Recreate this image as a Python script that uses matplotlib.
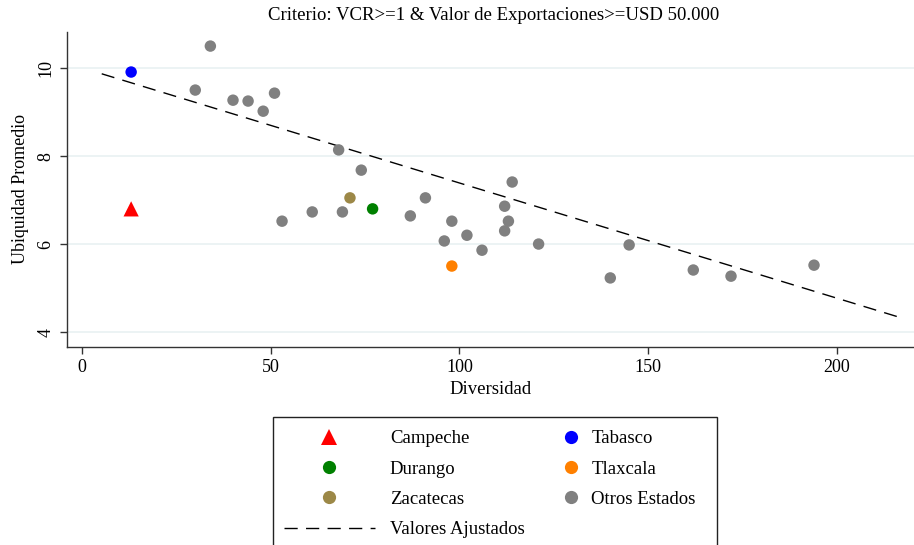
import matplotlib
matplotlib.use("Agg")
import matplotlib.pyplot as plt
from matplotlib.lines import Line2D
from matplotlib.patches import Rectangle

plt.rcParams['font.family'] = ['Liberation Serif', 'DejaVu Serif']

# ---- data ----
highlight_names = ["Campeche", "Tabasco", "Durango", "Tlaxcala", "Zacatecas"]
highlight_x = [13, 13, 77, 98, 71]
highlight_y = [6.80, 9.91, 6.80, 5.50, 7.05]

otros_x = [34, 30, 40, 44, 48, 51, 68, 74, 53, 61, 69, 87, 91, 96, 98, 102,
           106, 112, 114, 113, 112, 121, 140, 145, 162, 172, 194]
otros_y = [10.50, 9.50, 9.27, 9.25, 9.02, 9.43, 8.14, 7.68, 6.52, 6.73, 6.73,
           6.64, 7.05, 6.07, 6.52, 6.20, 5.86, 6.86, 7.41, 6.52, 6.30, 6.00,
           5.23, 5.98, 5.41, 5.27, 5.52]

fit_x = [5.2, 218.0]
fit_y = [9.87, 4.30]

x_ticks = [0, 50, 100, 150, 200]
y_ticks = [4, 6, 8, 10]

# ---- figure ----
W, H = 914, 545
fig = plt.figure(figsize=(W / 100, H / 100), dpi=100)
ax = fig.add_axes([67 / W, 1 - 347 / H, (W - 67) / W, (347 - 32) / H])

grid_c = "#EAF2F3"
for yv in y_ticks:
    ax.axhline(yv, color=grid_c, lw=1.3, zorder=0)

dash = (9.5, 6)
ax.plot(fit_x, fit_y, color="black", lw=1.0, dashes=dash, zorder=2)

dot_s = 68
ax.scatter(otros_x, otros_y, s=dot_s, color="#808080", edgecolors="none", zorder=3)

styles = {
    "Campeche": dict(marker="^", color="#FF0000", s=120),
    "Tabasco": dict(marker="o", color="#0000FF", s=dot_s),
    "Durango": dict(marker="o", color="#008000", s=dot_s),
    "Tlaxcala": dict(marker="o", color="#FF8000", s=dot_s),
    "Zacatecas": dict(marker="o", color="#9C8847", s=dot_s),
}
for n, xv, yv in zip(highlight_names, highlight_x, highlight_y):
    st = styles[n]
    ax.scatter([xv], [yv], marker=st["marker"], s=st["s"], color=st["color"],
               edgecolors="none", zorder=4)

ax.set_xlim(-4, 220.5)
ax.set_ylim(3.66, 10.82)
ax.set_xticks(x_ticks)
ax.set_yticks(y_ticks)
ax.set_xticklabels([str(v) for v in x_ticks], fontsize=13)
ax.set_yticklabels([str(v) for v in y_ticks], fontsize=13, rotation=90, va="center")
ax.tick_params(direction="out", length=5, width=1, color="#333333", pad=4)
for s in ["top", "right"]:
    ax.spines[s].set_visible(False)
for s in ["left", "bottom"]:
    ax.spines[s].set_color("#333333")
    ax.spines[s].set_linewidth(1.0)

ax.set_xlabel("Diversidad", fontsize=13.5, labelpad=3)
ax.set_ylabel("Ubiquidad Promedio", fontsize=13, labelpad=6)
fig.text(494 / W, 1 - 16 / H, "Criterio: VCR>=1 & Valor de Exportaciones>=USD 50.000",
         ha="center", va="center", fontsize=13.5)

# ---- legend ----
fig.patches.append(Rectangle((273 / W, -0.1), (717 - 273) / W, (1 - 417 / H) + 0.1,
                             transform=fig.transFigure, fill=False,
                             edgecolor="#222222", lw=1.0))

def mk(n):
    st = styles[n]
    ms = 12 if st["marker"] == "^" else 9.5
    return Line2D([], [], ls="none", marker=st["marker"], color=st["color"],
                  markersize=ms, markeredgewidth=0)

fit_handle = Line2D([], [], color="black", lw=1.0, dashes=dash)
otros_handle = Line2D([], [], ls="none", marker="o", color="#808080",
                      markersize=9.5, markeredgewidth=0)

fs = 13.5
leg1 = fig.legend([mk("Campeche"), mk("Durango"), mk("Zacatecas"), fit_handle],
                  ["Campeche", "Durango", "Zacatecas", "Valores Ajustados"],
                  loc="upper left", bbox_to_anchor=(284 / W, 1 - 430 / H),
                  frameon=False, fontsize=fs, handlelength=4.85, handletextpad=0.8,
                  labelspacing=0.71, borderpad=0, borderaxespad=0)
leg2 = fig.legend([mk("Tabasco"), mk("Tlaxcala"), otros_handle],
                  ["Tabasco", "Tlaxcala", "Otros Estados"],
                  loc="upper left", bbox_to_anchor=(562 / W, 1 - 430 / H),
                  frameon=False, fontsize=fs, handlelength=0.95, handletextpad=0.62,
                  labelspacing=0.71, borderpad=0, borderaxespad=0)

fig.savefig("out.png", dpi=100)
